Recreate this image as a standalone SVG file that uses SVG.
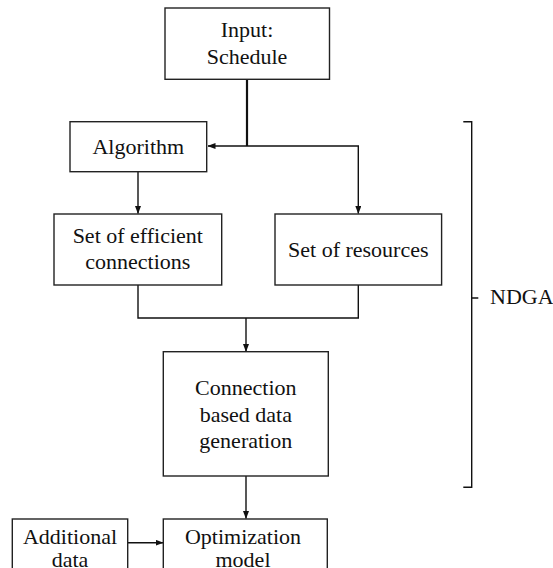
<svg xmlns="http://www.w3.org/2000/svg" width="553" height="568" viewBox="0 0 553 568">
<style>
.box{fill:#fff;stroke:#222;stroke-width:1.4}
.t{font-family:'Liberation Serif','Times New Roman',serif;font-size:22px;fill:#111;text-anchor:middle}
.c{fill:none;stroke:#111;stroke-width:1.4}
</style>
<defs>
<marker id="ah" markerWidth="8" markerHeight="6" refX="7.5" refY="3" orient="auto" markerUnits="userSpaceOnUse">
<path d="M0,0 L8,3 L0,6 Z" fill="#111"/>
</marker>
</defs>
<rect width="553" height="568" fill="#fff"/>
<g id="connectors">
<line x1="247" y1="79" x2="247" y2="146" stroke="#111" stroke-width="2.2"/>
<path class="c" d="M247,146 H208" marker-end="url(#ah)"/>
<path class="c" d="M247,146 H358.3 V213.5" marker-end="url(#ah)"/>
<path class="c" d="M138,172 V213.5" marker-end="url(#ah)"/>
<path class="c" d="M138,285 V318 H358.3 V285"/>
<path class="c" d="M246,318 V351.5" marker-end="url(#ah)"/>
<path class="c" d="M246,476 V518.5" marker-end="url(#ah)"/>
<path class="c" d="M127.7,542.7 H163" marker-end="url(#ah)"/>
</g>
<g id="input">
<rect class="box" x="165" y="8" width="164.5" height="71.3"/>
<text class="t" x="247" y="37.3">Input:</text>
<text class="t" x="247" y="64">Schedule</text>
</g>
<g id="algorithm">
<rect class="box" x="70" y="121.7" width="136.7" height="50"/>
<text class="t" x="138.3" y="154.3">Algorithm</text>
</g>
<g id="efficient">
<rect class="box" x="54" y="214" width="167.7" height="71"/>
<text class="t" x="137.8" y="242.7">Set of efficient</text>
<text class="t" x="137.8" y="269.3">connections</text>
</g>
<g id="resources">
<rect class="box" x="275" y="214" width="166.6" height="71"/>
<text class="t" x="358.3" y="256.7">Set of resources</text>
</g>
<g id="generation">
<rect class="box" x="163.3" y="351.7" width="165" height="124.3"/>
<text class="t" x="245.8" y="395">Connection</text>
<text class="t" x="245.8" y="421.7">based data</text>
<text class="t" x="245.8" y="448.3">generation</text>
</g>
<g id="additional">
<rect class="box" x="12.3" y="519" width="115.4" height="60"/>
<text class="t" x="70" y="544">Additional</text>
<text class="t" x="70" y="567">data</text>
</g>
<g id="optimization">
<rect class="box" x="163.3" y="519" width="164" height="60"/>
<text class="t" x="243" y="544">Optimization</text>
<text class="t" x="243" y="567">model</text>
</g>
<g id="ndga">
<path class="c" d="M463.3,121.7 H471.7 V487.3 H463.3 M471.7,298 H478.3"/>
<text class="t" x="490" y="304" style="text-anchor:start">NDGA</text>
</g>
</svg>
